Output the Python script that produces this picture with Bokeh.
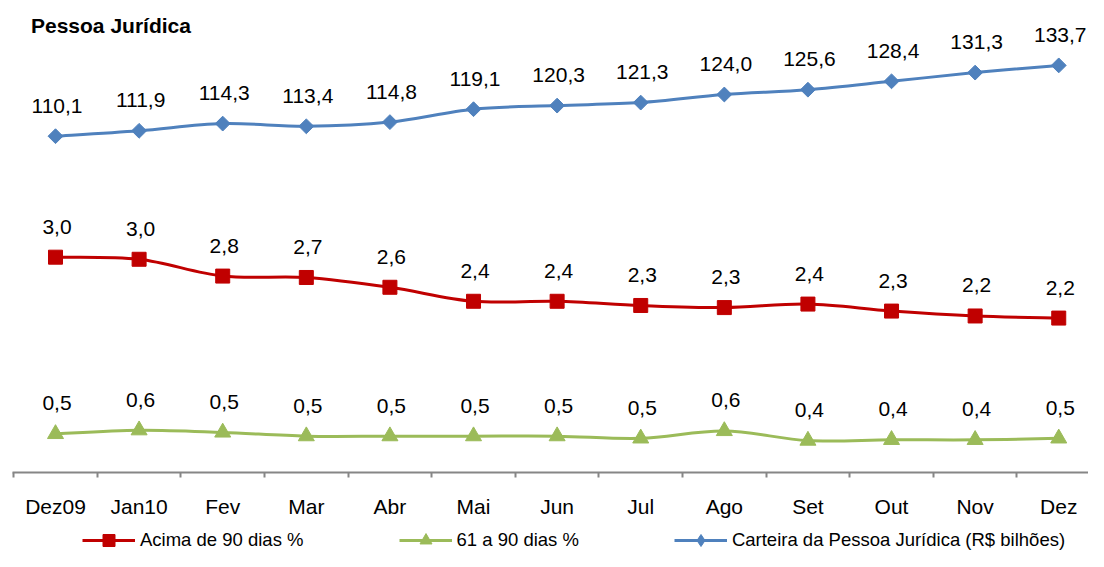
import math
from bokeh.plotting import figure
from bokeh.layouts import column
from bokeh.models import Range1d, FixedTicker, Label, Legend, LegendItem, ColumnDataSource
from bokeh.core.properties import value
from bokeh.embed import file_html
from bokeh.resources import INLINE

# ---------------- data ----------------
categories = ["Dez09", "Jan10", "Fev", "Mar", "Abr", "Mai", "Jun",
              "Jul", "Ago", "Set", "Out", "Nov", "Dez"]
acima_90 = [3.03, 3.00, 2.76, 2.74, 2.60, 2.40, 2.40, 2.34, 2.31, 2.36, 2.26, 2.19, 2.16]
dias_61_90 = [0.52, 0.57, 0.54, 0.49, 0.49, 0.49, 0.49, 0.46, 0.56, 0.43, 0.44, 0.44, 0.46]
carteira = [110.1, 111.9, 114.3, 113.4, 114.8, 119.1, 120.3, 121.3, 124.0, 125.6, 128.4, 131.3, 133.7]

series_names = ["Acima de 90 dias %", "61 a 90 dias %", "Carteira da Pessoa Jurídica (R$ bilhões)"]
title_text = "Pessoa Jurídica"

# ---------------- style ----------------
RED = "#C00000"
GREEN = "#9BBB59"
BLUE = "#4F81BD"
AXIS = "#868686"
FONT = "Liberation Sans"

xs = list(range(len(categories)))


def fmt(v):
    return ("%.1f" % v).replace(".", ",")


def smooth_segments(x, y):
    """Catmull-Rom -> cubic Bezier control points (smoothed line like the source)."""
    n = len(x)
    d = dict(x0=[], y0=[], x1=[], y1=[], cx0=[], cy0=[], cx1=[], cy1=[])
    for i in range(n - 1):
        i0 = max(i - 1, 0)
        i3 = min(i + 2, n - 1)
        d["x0"].append(x[i]); d["y0"].append(y[i])
        d["x1"].append(x[i + 1]); d["y1"].append(y[i + 1])
        d["cx0"].append(x[i] + (x[i + 1] - x[i0]) / 6.0)
        d["cy0"].append(y[i] + (y[i + 1] - y[i0]) / 6.0)
        d["cx1"].append(x[i + 1] - (x[i3] - x[i]) / 6.0)
        d["cy1"].append(y[i + 1] - (y[i3] - y[i]) / 6.0)
    return ColumnDataSource(d)


# ---------------- main chart ----------------
p = figure(width=1088, height=528, output_backend="svg", toolbar_location=None,
           x_range=Range1d(-0.5144, 12.356), y_range=Range1d(-0.046, 6.554),
           y_axis_location=None, title=None,
           min_border_left=12, min_border_right=0, min_border_top=10, min_border_bottom=56)
p.extra_y_ranges = {"blue": Range1d(-2.0, 152.0), "green": Range1d(-0.0014, 6.242)}
p.xgrid.visible = False
p.ygrid.visible = False
p.outline_line_color = None
p.background_fill_color = "white"
p.border_fill_color = "white"

ax = p.xaxis[0]
ax.ticker = FixedTicker(ticks=xs, minor_ticks=[i - 0.5 for i in xs])
ax.major_label_overrides = {i: c for i, c in enumerate(categories)}
ax.axis_line_color = AXIS
ax.axis_line_width = 2
ax.major_tick_out = 0
ax.major_tick_in = 0
ax.major_tick_line_color = None
ax.minor_tick_out = 5
ax.minor_tick_in = 0
ax.minor_tick_line_color = AXIS
ax.minor_tick_line_width = 2
ax.major_label_standoff = 17
ax.major_label_text_font = FONT
ax.major_label_text_font_size = "21px"
ax.major_label_text_color = "#000000"

specs = [
    (acima_90, RED, "square", 14, 0.0, "default", "square"),
    (dias_61_90, GREEN, "triangle", 16, 0.0, "green", "triangle"),
    (carteira, BLUE, "square", 10.5, math.pi / 4, "blue", "diamond"),
]

for vals, color, marker, size, angle, rname, _ in specs:
    p.bezier(x0="x0", y0="y0", x1="x1", y1="y1", cx0="cx0", cy0="cy0",
             cx1="cx1", cy1="cy1", source=smooth_segments(xs, vals),
             line_color=color, line_width=3, y_range_name=rname)
    p.scatter(xs, vals, marker=marker, size=size, angle=angle,
              fill_color=color, line_color=color, y_range_name=rname)
    p.text(xs, vals, text=[fmt(v) for v in vals], y_range_name=rname,
           text_align="center", text_baseline="alphabetic",
           x_offset=1.5, y_offset=-30.5,
           text_font=value(FONT), text_font_size="21px", text_color="#000000")

title = Label(x=18.5, y=447, x_units="screen", y_units="screen", text=title_text,
              text_font=FONT, text_font_size="21px", text_font_style="bold",
              text_color="#000000", text_align="left", text_baseline="alphabetic")
p.add_layout(title)

# ---------------- legend strip ----------------
q = figure(width=1088, height=23, output_backend="svg", toolbar_location=None,
           x_range=Range1d(0, 1), y_range=Range1d(0, 1), title=None,
           x_axis_location=None, y_axis_location=None,
           min_border_left=0, min_border_right=0, min_border_top=0, min_border_bottom=0)
q.xgrid.visible = False
q.ygrid.visible = False
q.outline_line_color = None
q.background_fill_color = "white"
q.border_fill_color = "white"

items = []
for (vals, color, marker, size, angle, rname, lmarker), name in zip(specs, series_names):
    ln = q.line(xs, vals, line_color=color, line_width=3, visible=False)
    mk = q.scatter(xs, vals, marker=lmarker, fill_color=color, line_color=color, visible=False)
    items.append(LegendItem(label=name, renderers=[ln, mk]))

legend = Legend(items=items, orientation="horizontal", location=(70, -4),
                spacing=95, glyph_width=53, glyph_height=30, label_standoff=5,
                padding=0, margin=0, border_line_color=None, background_fill_alpha=0,
                inactive_fill_alpha=0,
                label_text_font=FONT, label_text_font_size="18.5px",
                label_text_color="#000000")
q.add_layout(legend, "center")

layout = column(p, q, spacing=0)
open("out.html", "w").write(file_html(layout, INLINE))
